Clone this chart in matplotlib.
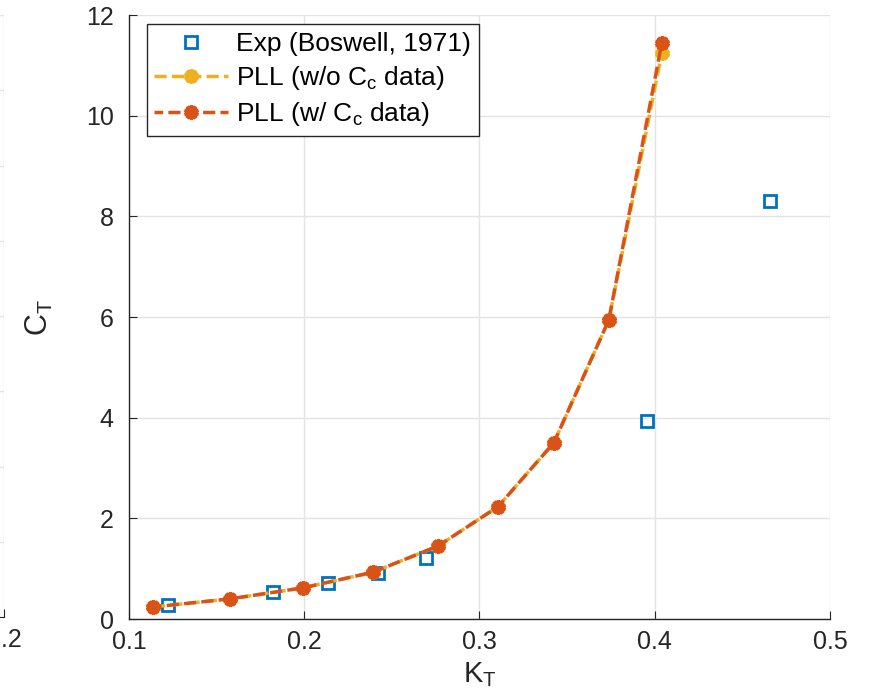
import matplotlib
matplotlib.use("Agg")
import matplotlib.pyplot as plt

plt.rcParams['font.family'] = ['Liberation Sans', 'DejaVu Sans']
plt.rcParams['mathtext.fontset'] = 'custom'
plt.rcParams['mathtext.rm'] = 'Liberation Sans'
plt.rcParams['mathtext.default'] = 'regular'

# data
kt_exp = [0.1222, 0.1821, 0.2135, 0.2420, 0.2694, 0.3955, 0.4657]
ct_exp = [0.28, 0.54, 0.72, 0.91, 1.21, 3.93, 8.30]

kt_pll = [0.1137, 0.1576, 0.1993, 0.2392, 0.2763, 0.3105, 0.3424, 0.3738, 0.4040]
ct_pll_no_cc = [0.24, 0.40, 0.62, 0.93, 1.45, 2.23, 3.50, 5.94, 11.24]
ct_pll_cc = [0.24, 0.40, 0.62, 0.93, 1.45, 2.23, 3.50, 5.94, 11.44]

xticks = [0.1, 0.2, 0.3, 0.4, 0.5]
yticks = [0, 2, 4, 6, 8, 10, 12]

blue = '#0072BD'
orange = '#D95319'
yellow = '#EDB120'
dark = '#262626'
gridc = '#e3e3e3'

fig = plt.figure(figsize=(8.78, 6.99), dpi=100)

# remnant of the neighbouring panel on the left edge
axl = fig.add_axes([-0.6, 0.1173, 0.6046, 0.8612])
axl.set_xlim(0, 0.2)
axl.set_ylim(0, 8)
axl.set_xticks([0.2])
axl.set_xticklabels(['0.2'])
axl.set_yticks(range(9))
axl.set_yticklabels([])
axl.grid(True, color=gridc, linewidth=1)
for s in ['top', 'right', 'left']:
    axl.spines[s].set_visible(False)
axl.spines['bottom'].set_color(dark)
axl.tick_params(direction='in', length=6, color=dark, labelcolor=dark,
                labelsize=18, pad=8, left=False)

ax = fig.add_axes([0.1469, 0.1144, 0.7984, 0.8641])
ax.plot(kt_exp, ct_exp, linestyle='none', marker='s', markersize=8,
        markerfacecolor='none', markeredgecolor=blue, markeredgewidth=2,
        label='Exp (Boswell, 1971)')
ax.plot(kt_pll, ct_pll_no_cc, color=yellow, linewidth=2.5,
        linestyle=(0, (3.5, 1.5)), dash_capstyle='butt',
        marker=(10, 1, 0), markersize=10, markeredgewidth=2.5,
        markerfacecolor=yellow, markeredgecolor=yellow,
        label='PLL (w/o C$_c$ data)')
ax.plot(kt_pll, ct_pll_cc, color=orange, linewidth=2.5,
        linestyle=(6, (3.5, 1.5)), dash_capstyle='butt',
        marker=(10, 1, 0), markersize=10, markeredgewidth=2.5,
        markerfacecolor=orange, markeredgecolor=orange,
        label='PLL (w/ C$_c$ data)')

ax.set_xlim(0.1, 0.5)
ax.set_ylim(0, 12)
ax.set_xticks(xticks)
ax.set_yticks(yticks)
ax.grid(True, color=gridc, linewidth=1)
ax.set_axisbelow(True)
for s in ['top', 'right']:
    ax.spines[s].set_visible(False)
for s in ['left', 'bottom']:
    ax.spines[s].set_color(dark)
    ax.spines[s].set_linewidth(1)
ax.tick_params(direction='in', length=6, color=dark, labelcolor=dark, labelsize=18)
ax.tick_params(axis='y', pad=11)
ax.tick_params(axis='x', pad=8)

ax.set_xlabel('K$_T$', fontsize=21, color=dark)
ax.set_ylabel('C$_T$', fontsize=22, color=dark)
ax.xaxis.set_label_coords(0.5, -0.068)
ax.yaxis.set_label_coords(-0.105, 0.5)

leg = ax.legend(loc='upper left', bbox_to_anchor=(0.025, 0.985), fontsize=19,
                frameon=True, fancybox=False, handlelength=2.8, handletextpad=0.3,
                labelspacing=0.3, borderpad=0.3, borderaxespad=0)
leg.get_frame().set_edgecolor(dark)
leg.get_frame().set_linewidth(1)
leg.get_frame().set_alpha(1)

fig.savefig('out.png', dpi=100)
